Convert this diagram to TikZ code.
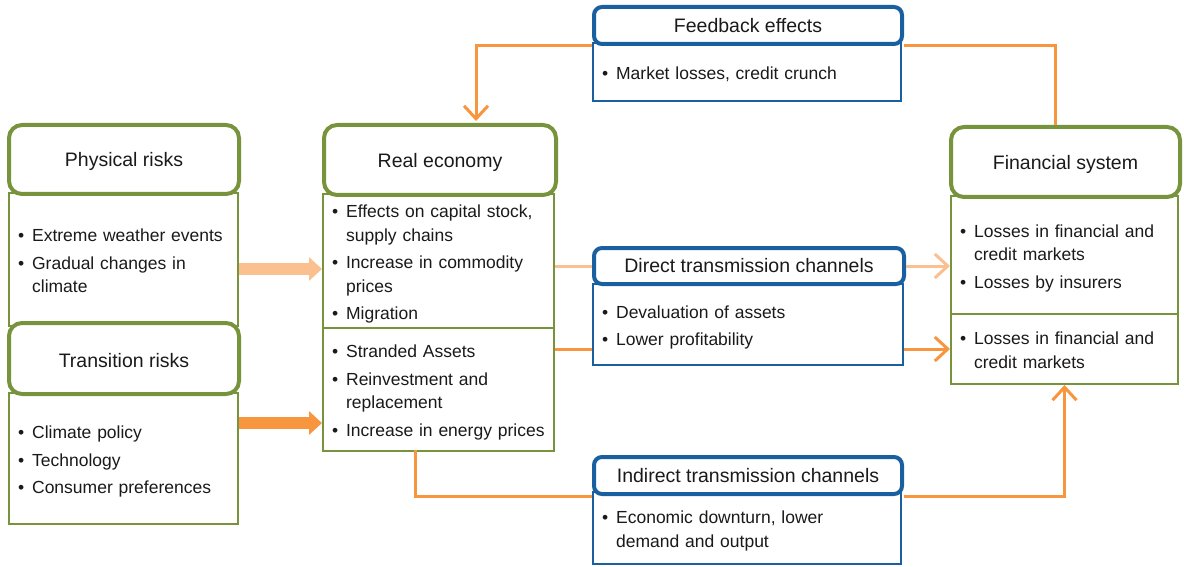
\documentclass[tikz,border=0pt]{standalone}
\usepackage{fontspec}
\setmainfont{Liberation Sans}
\usetikzlibrary{arrows.meta,calc}
\definecolor{grn}{HTML}{77933C}
\definecolor{blu}{HTML}{1A5FA0}
\definecolor{org}{HTML}{F7963E}
\definecolor{lorg}{HTML}{FAC090}
\definecolor{txt}{HTML}{1A1A1A}
\newcommand{\bl}[1]{\raisebox{-3pt}[\height][\depth]{\begin{tabular}{@{}l@{\hspace{8pt}}l@{}}#1\end{tabular}}}
\newcommand{\hl}[1]{\raisebox{-2pt}[\height][\depth]{#1}}
\newcommand{\bodyf}{\fontsize{17.5}{23.5}\selectfont}
\newcommand{\headf}{\fontsize{19.5}{23}\selectfont}
\begin{document}
\begin{tikzpicture}[x=1pt,y=-1pt,
  gcont/.style={draw=grn, line width=2, fill=white, anchor=north west, inner xsep=9, inner ysep=0, align=left, font=\bodyf, text=txt},
  bcont/.style={draw=blu, line width=2, fill=white, anchor=north west, inner xsep=9, inner ysep=0, align=left, font=\bodyf, text=txt},
  ghead/.style={draw=grn, line width=4, rounded corners=13, fill=white, anchor=north west, inner sep=0, font=\headf, text=txt},
  bhead/.style={draw=blu, line width=4, rounded corners=8, fill=white, anchor=north west, inner sep=0, font=\headf, text=txt},
  con/.style={draw=org, line width=3},
  lcon/.style={draw=lorg, line width=3},
  tip/.style={-{Straight Barb[length=13pt,width=24pt,line width=3pt]}},
  fat/.style={line width=12, -{Triangle[length=13pt,width=23pt]}}
]
\useasboundingbox (0,0) rectangle (1184,567);

% content boxes
\node[gcont, minimum width=229, minimum height=133, text width=211] (phyC) at (8,192)
  {\bl{\textbullet & Extreme weather events\\[4pt] \textbullet & Gradual changes in\\ & climate}};
\node[gcont, minimum width=229, minimum height=131, text width=211] (traC) at (8,392)
  {\bl{\textbullet & Climate policy\\[4pt] \textbullet & Technology\\[4pt] \textbullet & Consumer preferences}};
\node[gcont, minimum width=231, minimum height=134, text width=213] (reC1) at (322,193)
  {\bl{\textbullet & Effects on capital stock,\\ & supply chains\\[4pt] \textbullet & Increase in commodity\\ & prices\\[4pt] \textbullet & Migration}};
\node[gcont, minimum width=231, minimum height=123, text width=213] (reC2) at (322,327)
  {\bl{\textbullet & Stranded Assets\\[4pt] \textbullet & Reinvestment and\\ & replacement\\[4pt] \textbullet & Increase in energy prices}};
\node[bcont, minimum width=308, minimum height=58, text width=290] (fbC) at (592,42)
  {\bl{\textbullet & Market losses, credit crunch}};
\node[bcont, minimum width=310, minimum height=81, text width=292] (dirC) at (592,283)
  {\bl{\textbullet & Devaluation of assets\\[4pt] \textbullet & Lower profitability}};
\node[gcont, minimum width=227, minimum height=118, text width=209] (finC1) at (950,195)
  {\bl{\textbullet & Losses in financial and\\ & credit markets\\[4pt] \textbullet & Losses by insurers}};
\node[gcont, minimum width=227, minimum height=70, text width=209] (finC2) at (950,313)
  {\bl{\textbullet & Losses in financial and\\ & credit markets}};
\node[bcont, minimum width=308, minimum height=72, text width=290] (indC) at (592,491)
  {\bl{\textbullet & Economic downturn, lower\\ & demand and output}};

% headers
\node[ghead, minimum width=230, minimum height=69] (phyH) at (7,123) {\hl{Physical risks}};
\node[ghead, minimum width=230, minimum height=71] (traH) at (7,321) {\hl{Transition risks}};
\node[ghead, minimum width=232, minimum height=70] (reH) at (322,123) {\hl{Real economy}};
\node[ghead, minimum width=229, minimum height=70] (finH) at (949,125) {\hl{Financial system}};
\node[bhead, minimum width=308, minimum height=37] (fbH) at (592,5) {Feedback effects};
\node[bhead, minimum width=310, minimum height=36] (dirH) at (592,246) {Direct transmission channels};
\node[bhead, minimum width=308, minimum height=37] (indH) at (592,455) {Indirect transmission channels};

% free ends
\coordinate (fbEnd) at (476,121);
\coordinate (fbR) at (1055,125);
\coordinate (indTop) at (415,450);
\coordinate (phyY) at (0,269);
\coordinate (traY) at (0,423);

% connectors
\draw[con, tip] (fbH.south west) -| (fbEnd);
\draw[con] (fbH.south east) -| (fbR);
\draw[lcon] (reC1.east |- dirH.west) -- (dirH.west);
\draw[lcon, tip] (dirH.east) -- (dirH.east -| finC1.west);
\draw[con] (reC2.east |- finC2.west) -- (dirC.west |- finC2.west);
\draw[con, tip] (dirC.east |- finC2.west) -- (finC2.west);
\draw[con] (indTop) |- (indH.south west);
\draw[con, tip] (indH.south east) -| (finC2.south);
\draw[fat, draw=lorg, fill=lorg] (phyC.east |- phyY) -- (reC1.west |- phyY);
\draw[fat, draw=org, fill=org] (traC.east |- traY) -- (reC2.west |- traY);
\end{tikzpicture}
\end{document}
